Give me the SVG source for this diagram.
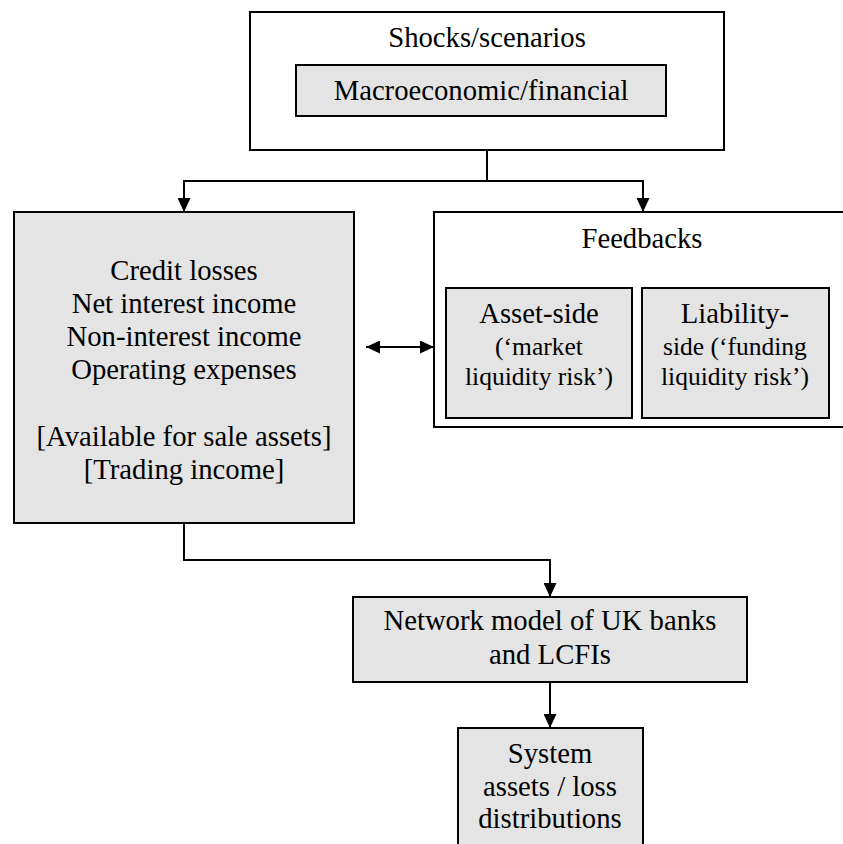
<svg xmlns="http://www.w3.org/2000/svg" width="843" height="844" viewBox="0 0 843 844">
<defs>
<marker id="ah" viewBox="0 0 14 13" markerWidth="14" markerHeight="13" refX="14" refY="6.5" orient="auto" markerUnits="userSpaceOnUse">
<path d="M0,0 L14,6.5 L0,13 Z" fill="#000"/>
</marker>
<marker id="ahs" viewBox="0 0 14 13" markerWidth="14" markerHeight="13" refX="0" refY="6.5" orient="auto" markerUnits="userSpaceOnUse">
<path d="M14,0 L0,6.5 L14,13 Z" fill="#000"/>
</marker>
</defs>
<style>
.box{fill:#fff;stroke:#000;stroke-width:2}
.gbox{fill:#e4e4e4;stroke:#000;stroke-width:2}
text{font-family:'Times New Roman','Liberation Serif','DejaVu Serif','Noto Serif',Times,serif;font-size:28.7px;fill:#000;text-anchor:middle}
.s{font-size:25.5px}
.c{fill:none;stroke:#000;stroke-width:2}
</style>
<rect width="843" height="844" fill="#fff"/>
<g id="shocks">
<rect class="box" x="250" y="12" width="474" height="138"/>
<text x="487" y="47">Shocks/scenarios</text>
</g>
<g id="macro">
<rect class="gbox" x="296" y="65" width="370" height="51"/>
<text x="481" y="100">Macroeconomic/financial</text>
</g>
<g id="income">
<rect class="gbox" x="14" y="212" width="340" height="311"/>
<text x="184" y="280">Credit losses</text>
<text x="184" y="313">Net interest income</text>
<text x="184" y="346">Non-interest income</text>
<text x="184" y="379">Operating expenses</text>
<text x="184" y="446">[Available for sale assets]</text>
<text x="184" y="479">[Trading income]</text>
</g>
<g id="feedbacks">
<rect class="box" x="434" y="212" width="420" height="215"/>
<text x="642" y="248">Feedbacks</text>
</g>
<g id="asset">
<rect class="gbox" x="446" y="288" width="186" height="130"/>
<text x="539" y="323">Asset-side</text>
<text class="s" x="539" y="355">(‘market</text>
<text class="s" x="539" y="385">liquidity risk’)</text>
</g>
<g id="liability">
<rect class="gbox" x="642" y="288" width="187" height="130"/>
<text x="735" y="323">Liability-</text>
<text class="s" x="735" y="355">side (‘funding</text>
<text class="s" x="735" y="385">liquidity risk’)</text>
</g>
<g id="network">
<rect class="gbox" x="353" y="597" width="394" height="85"/>
<text x="550" y="630">Network model of UK banks</text>
<text x="550" y="664">and LCFIs</text>
</g>
<g id="system">
<rect class="gbox" x="458" y="728" width="185" height="125"/>
<text x="550" y="763">System</text>
<text x="550" y="796">assets / loss</text>
<text x="550" y="828">distributions</text>
</g>
<g id="connectors">
<path class="c" d="M487,150 V181"/>
<path class="c" d="M487,181 H184 V212" marker-end="url(#ah)"/>
<path class="c" d="M487,181 H643 V212" marker-end="url(#ah)"/>
<path class="c" d="M366,347 H434" marker-start="url(#ahs)" marker-end="url(#ah)"/>
<path class="c" d="M184,523 V560 H550 V597" marker-end="url(#ah)"/>
<path class="c" d="M550,682 V728" marker-end="url(#ah)"/>
</g>
</svg>
